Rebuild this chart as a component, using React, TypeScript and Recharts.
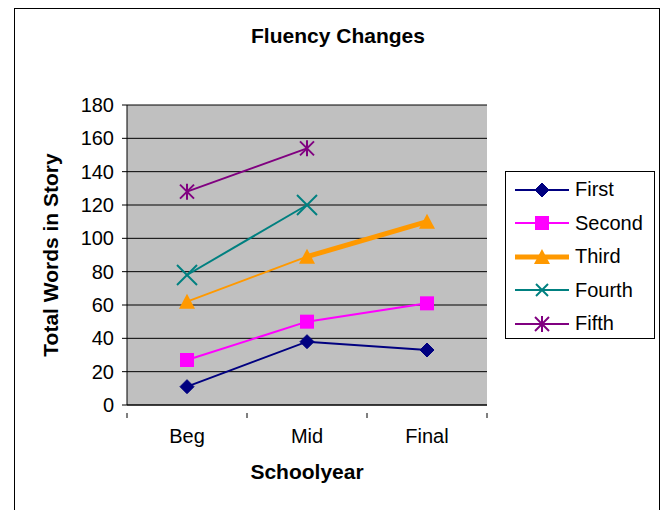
import React from "react";
import { LineChart, Line, XAxis, YAxis, CartesianGrid, Legend, Label } from "recharts";

const categories = ["Beg", "Mid", "Final"];
const first = [11, 38, 33];
const second = [27, 50, 61];
const third = [62, 89, 110];
const fourth: (number | null)[] = [78, 120, null];
const fifth: (number | null)[] = [128, 154, null];
const yTicks = [0, 20, 40, 60, 80, 100, 120, 140, 160, 180];

const seriesInfo = [
  { key: "First", color: "#000080", marker: "diamond", width: 2 },
  { key: "Second", color: "#FF00FF", marker: "square", width: 2 },
  { key: "Third", color: "#FF9900", marker: "triangle", width: 2 },
  { key: "Fourth", color: "#008080", marker: "x", width: 2 },
  { key: "Fifth", color: "#800080", marker: "star", width: 2 },
];

const data = categories.map((c, i) => ({
  name: c,
  First: first[i],
  Second: second[i],
  Third: third[i],
  ThirdThick: i >= 1 ? third[i] : null,
  Fourth: fourth[i],
  Fifth: fifth[i],
}));

const FONT = "'Liberation Sans', Arial, sans-serif";

function Marker({ kind, cx, cy, color, small }: { kind: string; cx: number; cy: number; color: string; small?: boolean }) {
  switch (kind) {
    case "diamond":
      return <polygon points={`${cx},${cy - 7} ${cx + 7},${cy} ${cx},${cy + 7} ${cx - 7},${cy}`} fill={color} stroke={color} />;
    case "square":
      return <rect x={cx - 7} y={cy - 7} width={14} height={14} fill={color} />;
    case "triangle":
      return <polygon points={`${cx},${cy - 8} ${cx + 8},${cy + 7} ${cx - 8},${cy + 7}`} fill={color} />;
    case "x": {
      const r = small ? 6 : 10;
      return (
        <g stroke={color} strokeWidth={2}>
          <line x1={cx - r} y1={cy - r} x2={cx + r} y2={cy + r} />
          <line x1={cx - r} y1={cy + r} x2={cx + r} y2={cy - r} />
        </g>
      );
    }
    case "star":
      return (
        <g stroke={color} strokeWidth={2}>
          <line x1={cx - 7} y1={cy - 7} x2={cx + 7} y2={cy + 7} />
          <line x1={cx - 7} y1={cy + 7} x2={cx + 7} y2={cy - 7} />
          <line x1={cx} y1={cy - 8} x2={cx} y2={cy + 8} />
        </g>
      );
    default:
      return null;
  }
}

const makeDot = (kind: string, color: string) => (props: any) => {
  const { cx, cy, value, index } = props;
  if (cx == null || cy == null || value == null) return <g key={index} />;
  return (
    <g key={index}>
      <Marker kind={kind} cx={cx} cy={cy} color={color} />
    </g>
  );
};

function XTick(props: any) {
  const { x, y, payload } = props;
  const off = payload.offset || 0;
  return (
    <g>
      <line x1={x - off} y1={y} x2={x - off} y2={y + 5} stroke="#000" />
      {payload.index === categories.length - 1 && (
        <line x1={x + off} y1={y} x2={x + off} y2={y + 5} stroke="#000" />
      )}
      <text x={x} y={y + 30} textAnchor="middle" fontSize={20} fontFamily={FONT} fill="#000">
        {payload.value}
      </text>
    </g>
  );
}

function LegendBox() {
  return (
    <div
      style={{
        border: "1px solid #000",
        width: 150,
        height: 168,
        boxSizing: "border-box",
        background: "#fff",
        fontFamily: FONT,
        fontSize: 20,
        paddingTop: 1,
      }}
    >
      {seriesInfo.map((s) => (
        <div key={s.key} style={{ display: "flex", alignItems: "center", height: 33.5 }}>
          <svg width={66} height={24} style={{ flex: "none" }}>
            <line x1={9} y1={12} x2={63} y2={12} stroke={s.color} strokeWidth={s.key === "Third" ? 5 : 2} />
            <Marker kind={s.marker} cx={36} cy={12} color={s.color} small />
          </svg>
          <span style={{ marginLeft: 3 }}>{s.key}</span>
        </div>
      ))}
    </div>
  );
}

export default function App() {
  return (
    <div style={{ position: "absolute", left: 0, top: 0, width: 670, height: 510, background: "#fff", overflow: "hidden" }}>
      <div
        style={{
          position: "absolute",
          left: 14,
          top: 8,
          width: 646,
          height: 520,
          border: "1px solid #000",
          boxSizing: "border-box",
        }}
      />
      <div
        style={{
          position: "absolute",
          left: 0,
          top: 24,
          width: 676,
          textAlign: "center",
          fontFamily: FONT,
          fontWeight: "bold",
          fontSize: 21,
        }}
      >
        Fluency Changes
      </div>
      <div style={{ position: "absolute", left: 0, top: 0 }}>
        <LineChart width={670} height={510} data={data} margin={{ top: 105, right: 183, left: 67, bottom: 45 }}>
          <CartesianGrid vertical={false} stroke="#000" fill="#C0C0C0" fillOpacity={1} horizontalValues={yTicks} />
          <XAxis
            dataKey="name"
            scale="band"
            tick={<XTick />}
            tickLine={false}
            axisLine={{ stroke: "#000" }}
            height={60}
            interval={0}
          >
            <Label
              content={() => (
                <text x={307} y={479} textAnchor="middle" fontSize={21} fontWeight="bold" fontFamily={FONT} fill="#000">
                  Schoolyear
                </text>
              )}
            />
          </XAxis>
          <YAxis
            domain={[0, 180]}
            ticks={yTicks}
            width={60}
            tickSize={5}
            tickMargin={8}
            tickLine={{ stroke: "#000" }}
            axisLine={{ stroke: "#000" }}
            tick={{ fontSize: 20, fontFamily: FONT, fill: "#000" }}
            interval={0}
          >
            <Label
              content={() => (
                <text
                  x={58}
                  y={255}
                  transform="rotate(-90 58 255)"
                  textAnchor="middle"
                  fontSize={21}
                  fontWeight="bold"
                  fontFamily={FONT}
                  fill="#000"
                >
                  Total Words in Story
                </text>
              )}
            />
          </YAxis>
          <YAxis yAxisId="right" orientation="right" width={0} tick={false} tickLine={false} axisLine={{ stroke: "#808080" }} domain={[0, 180]} />
          <Legend
            layout="horizontal"
            verticalAlign="middle"
            content={() => <LegendBox />}
            wrapperStyle={{ position: "absolute", left: 505, top: 171, width: 150 }}
          />
          {seriesInfo.map((s) => (
            <Line
              key={s.key}
              dataKey={s.key}
              stroke={s.color}
              strokeWidth={s.width}
              dot={makeDot(s.marker, s.color)}
              activeDot={false}
              isAnimationActive={false}
              connectNulls={false}
            />
          ))}
          <Line
            dataKey="ThirdThick"
            stroke="#FF9900"
            strokeWidth={5}
            dot={false}
            activeDot={false}
            legendType="none"
            isAnimationActive={false}
          />
        </LineChart>
      </div>
    </div>
  );
}
